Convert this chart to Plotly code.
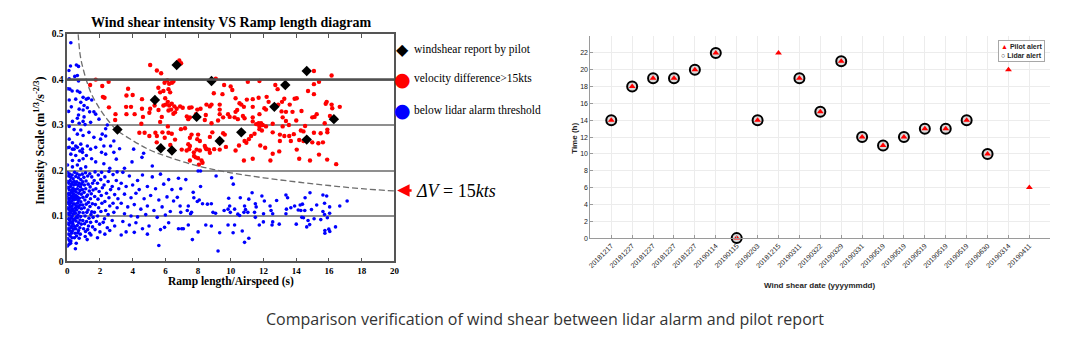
import plotly.graph_objects as go

# ---------------- left panel: intensity vs ramp length ----------------
# points classified as velocity difference > 15 kts
red_pts = [
    (5.07, .432), (5.48, .420), (5.74, .414), (6.12, .398), (6.40, .393), (6.85, .442), (6.96, .436),
    (9.08, .402), (11.75, .397), (11.04, .395), (15.08, .419), (16.16, .409), (1.74, .400), (1.40, .388),
    (2.14, .386), (2.53, .395), (2.18, .362), (2.28, .360), (2.55, .339), (2.95, .324), (2.93, .311),
    (3.72, .380), (4.00, .366), (3.62, .365), (3.60, .340), (3.90, .340), (3.62, .324), (4.12, .324),
    (4.57, .357), (4.57, .336), (4.63, .318), (4.53, .303), (5.02, .327), (5.07, .336), (5.34, .343),
    (5.57, .382), (5.68, .372), (5.88, .375), (6.19, .379), (6.29, .372), (5.99, .359), (6.15, .351),
    (5.88, .343), (6.02, .345), (6.23, .343), (6.39, .347), (6.55, .341), (6.69, .336), (6.19, .332),
    (6.35, .334), (6.49, .325), (6.59, .328), (6.23, .391), (6.49, .396), (5.95, .393), (5.58, .333),
    (5.78, .318), (5.68, .307), (4.41, .283), (4.73, .283), (5.02, .276), (5.48, .276), (6.15, .297),
    (5.82, .284), (6.19, .283), (6.39, .281), (6.59, .268), (5.39, .283), (5.47, .262), (5.96, .272),
    (6.30, .256), (9.59, .388), (9.99, .385), (10.09, .377), (12.72, .388), (12.86, .379), (8.96, .370),
    (9.49, .368), (10.98, .356), (11.34, .357), (11.70, .360), (10.64, .345), (10.29, .359), (10.53, .348),
    (10.39, .333), (10.29, .329), (10.80, .340), (11.34, .340), (12.19, .362), (12.31, .351), (13.13, .351),
    (13.27, .358), (13.37, .329), (12.05, .337), (12.15, .334), (11.75, .324), (6.90, .341), (7.06, .338),
    (7.46, .338), (7.60, .339), (8.15, .336), (7.95, .334), (8.51, .345), (8.72, .341), (8.82, .345),
    (9.32, .345), (9.32, .334), (9.32, .324), (7.87, .324), (7.31, .319), (7.50, .317), (7.40, .313),
    (8.47, .322), (8.41, .311), (9.22, .310), (8.82, .304), (9.53, .317), (9.83, .324), (9.93, .318),
    (10.23, .317), (10.43, .313), (10.74, .320), (10.84, .315), (11.34, .317), (11.34, .308), (11.55, .302),
    (11.70, .304), (11.85, .304), (11.95, .300), (11.75, .297), (12.56, .303), (13.17, .317), (13.37, .309),
    (13.17, .297), (6.95, .291), (7.20, .293), (7.60, .279), (7.50, .272), (8.00, .279), (7.95, .269),
    (8.11, .265), (8.72, .274), (8.87, .284), (9.53, .282), (9.63, .279), (10.84, .265), (10.95, .261),
    (11.10, .269), (11.24, .276), (11.45, .281), (11.75, .291), (11.90, .288), (12.15, .297), (12.56, .284),
    (13.00, .279), (13.27, .276), (13.57, .276), (13.67, .265), (13.00, .265), (7.40, .258), (7.50, .254),
    (7.45, .247), (8.41, .254), (8.51, .247), (8.66, .246), (7.00, .246), (7.30, .244), (7.74, .240),
    (7.91, .246), (8.11, .244), (8.47, .249), (8.98, .247), (8.72, .239), (9.32, .246), (10.29, .244),
    (11.34, .226), (12.56, .237), (12.42, .222), (12.96, .242), (8.00, .227), (8.21, .222), (8.27, .217),
    (7.50, .222), (7.75, .232), (7.85, .229), (8.05, .213), (10.80, .222), (11.80, .255), (12.10, .250),
    (10.50, .255), (9.70, .252), (15.39, .395), (15.08, .390), (14.72, .375), (15.08, .368), (14.03, .359),
    (15.86, .351), (15.80, .347), (16.16, .345), (16.20, .337), (16.66, .340), (13.77, .329), (14.32, .331),
    (15.25, .324), (14.98, .317), (15.12, .318), (16.06, .320), (15.74, .304), (14.54, .298), (14.28, .288),
    (14.44, .286), (15.90, .290), (15.90, .284), (15.08, .283), (15.49, .282), (14.18, .267), (14.44, .265),
    (14.98, .262), (15.35, .260), (15.63, .262), (14.03, .246), (14.18, .226), (14.84, .222), (15.39, .235),
    (15.89, .224), (16.44, .214), (13.90, .358), (13.60, .345), (13.55, .300), (14.00, .310), (13.85, .280),
    (12.90, .345), (13.10, .330),
]

# points below the lidar alarm threshold
blue_pts = [
    # above 0.2, left of the threshold curve
    (0.22, .481), (0.56, .432), (0.69, .429), (0.46, .407), (0.62, .409), (0.12, .402), (0.69, .397),
    (0.16, .379), (0.62, .375), (0.77, .372), (0.12, .355), (0.52, .357), (0.97, .361), (1.17, .357),
    (0.83, .350), (1.03, .343), (1.29, .359), (1.50, .355), (1.23, .338), (0.73, .335), (0.97, .333),
    (1.37, .329), (1.63, .329), (0.69, .322), (0.62, .315), (1.03, .318), (1.74, .324), (0.32, .308),
    (0.73, .304), (0.97, .308), (1.09, .301), (1.43, .306), (1.94, .313), (2.45, .300), (2.35, .292),
    (0.12, .297), (0.42, .290), (0.83, .289), (0.62, .280), (0.97, .277), (1.33, .284), (1.63, .273),
    (2.14, .280), (2.04, .269), (2.35, .276), (2.85, .265), (0.12, .269), (0.32, .261), (0.52, .254),
    (0.83, .258), (1.23, .254), (0.93, .247), (0.32, .247), (0.02, .250), (2.24, .254), (2.65, .254),
    (3.20, .248), (0.12, .251), (0.42, .247), (0.62, .251), (0.77, .243), (0.93, .240), (0.22, .236),
    (0.52, .233), (0.32, .222), (0.73, .222), (0.97, .226), (1.17, .233), (1.43, .247), (1.74, .251),
    (2.10, .240), (2.35, .236), (2.85, .240), (3.96, .219), (4.57, .229), (4.06, .247), (4.67, .238),
    (2.24, .215), (1.74, .219), (1.49, .226), (0.62, .212), (0.32, .208), (0.02, .212), (0.83, .204),
    (1.13, .208), (3.00, .225), (3.50, .205), (5.20, .210), (2.60, .205), (0.10, .420), (0.20, .430),
    (0.05, .380), (0.30, .375), (0.08, .330), (0.25, .340),
    # dense cluster, x < 0.4
    (0.03, .195), (0.08, .188), (0.15, .192), (0.22, .185), (0.30, .190), (0.36, .182), (0.02, .176),
    (0.10, .172), (0.18, .178), (0.26, .170), (0.33, .174), (0.40, .168), (0.05, .163), (0.12, .158),
    (0.20, .165), (0.28, .156), (0.35, .161), (0.07, .150), (0.16, .147), (0.24, .152), (0.31, .144),
    (0.38, .149), (0.03, .140), (0.11, .136), (0.19, .139), (0.27, .133), (0.34, .138), (0.06, .128),
    (0.14, .125), (0.22, .129), (0.30, .122), (0.37, .127), (0.02, .118), (0.09, .115), (0.17, .119),
    (0.25, .112), (0.32, .116), (0.40, .110), (0.05, .106), (0.13, .102), (0.21, .107), (0.29, .099),
    (0.36, .104), (0.08, .094), (0.16, .090), (0.24, .095), (0.33, .088), (0.03, .084), (0.11, .080),
    (0.19, .085), (0.27, .077), (0.35, .082), (0.06, .072), (0.14, .068), (0.22, .074), (0.30, .066),
    (0.09, .060), (0.18, .056), (0.26, .062), (0.04, .050), (0.13, .046), (0.21, .040), (0.02, .034),
    (0.29, .052), (0.38, .071), (0.40, .092), (0.12, .038), (0.50, .028), (0.22, .045), (0.40, .135),
    (0.39, .155), (0.07, .131), (0.18, .111), (0.26, .143), (0.12, .093), (0.31, .085), (0.05, .147),
    # x 0.4 - 0.9
    (0.45, .196), (0.52, .187), (0.60, .193), (0.68, .184), (0.75, .190), (0.83, .180), (0.43, .176),
    (0.50, .170), (0.58, .175), (0.66, .167), (0.73, .172), (0.81, .164), (0.88, .170), (0.46, .158),
    (0.54, .153), (0.62, .160), (0.70, .150), (0.78, .156), (0.86, .148), (0.44, .142), (0.51, .137),
    (0.59, .143), (0.67, .134), (0.75, .139), (0.83, .131), (0.47, .126), (0.55, .121), (0.63, .128),
    (0.71, .118), (0.79, .124), (0.87, .116), (0.43, .111), (0.50, .106), (0.58, .113), (0.66, .102),
    (0.74, .108), (0.82, .099), (0.46, .094), (0.54, .089), (0.62, .096), (0.70, .085), (0.78, .091),
    (0.86, .082), (0.45, .077), (0.53, .072), (0.61, .079), (0.69, .068), (0.77, .074), (0.48, .062),
    (0.57, .056), (0.65, .063), (0.73, .051), (0.55, .040), (0.80, .060), (0.44, .052), (0.52, .145),
    (0.68, .121), (0.57, .098), (0.49, .117), (0.64, .141),
    # x 0.9 - 1.6
    (0.92, .192), (1.02, .185), (1.12, .195), (1.25, .188), (1.38, .193), (1.50, .186), (0.95, .175),
    (1.05, .168), (1.15, .177), (1.28, .170), (1.40, .164), (1.55, .172), (0.93, .158), (1.03, .152),
    (1.13, .160), (1.24, .146), (1.35, .155), (1.47, .149), (1.58, .157), (0.96, .141), (1.08, .135),
    (1.18, .143), (1.30, .130), (1.42, .138), (1.54, .127), (0.94, .124), (1.04, .118), (1.16, .126),
    (1.27, .113), (1.39, .121), (1.50, .109), (0.97, .107), (1.09, .100), (1.20, .108), (1.33, .095),
    (1.45, .103), (1.58, .097), (0.95, .090), (1.06, .083), (1.18, .088), (1.30, .078), (1.43, .086),
    (1.55, .076), (1.00, .072), (1.12, .066), (1.25, .070), (1.37, .062), (1.10, .055), (1.22, .048),
    (1.45, .058),
    # x 1.6 - 3.2
    (1.70, .197), (1.90, .190), (2.10, .196), (2.30, .186), (2.55, .198), (2.80, .191), (3.05, .197),
    (1.65, .178), (1.85, .172), (2.05, .180), (2.25, .168), (2.50, .176), (2.75, .165), (3.00, .178),
    (1.75, .160), (1.95, .154), (2.15, .162), (2.40, .150), (2.65, .158), (2.90, .147), (3.15, .160),
    (1.68, .143), (1.88, .137), (2.08, .145), (2.30, .132), (2.55, .140), (2.80, .128), (3.10, .138),
    (1.72, .125), (1.92, .118), (2.12, .128), (2.35, .112), (2.60, .122), (2.85, .108), (3.05, .118),
    (1.66, .108), (1.86, .100), (2.06, .110), (2.28, .094), (2.50, .103), (2.75, .090), (1.78, .088),
    (1.98, .082), (2.20, .086), (2.45, .074), (1.70, .070), (2.00, .065), (2.30, .060), (2.60, .068),
    (1.85, .052), (2.90, .078),
    # x 3.2 - 6.6
    (3.40, .196), (3.80, .188), (4.30, .178), (4.60, .190), (5.20, .186), (5.70, .192), (6.20, .180),
    (3.30, .172), (3.60, .165), (4.00, .168), (4.40, .158), (4.90, .165), (5.40, .160), (5.90, .170),
    (6.40, .158), (3.50, .148), (3.90, .140), (4.20, .150), (4.70, .138), (5.10, .145), (5.60, .135),
    (6.10, .142), (6.50, .133), (3.30, .128), (3.70, .120), (4.10, .125), (4.50, .115), (4.90, .122),
    (5.30, .112), (5.80, .120), (6.30, .110), (3.50, .105), (3.90, .100), (4.30, .098), (4.80, .103),
    (5.50, .097), (6.00, .102), (3.40, .088), (3.80, .080), (4.20, .085), (4.60, .072), (5.00, .078),
    (5.70, .070), (6.20, .085), (3.60, .065), (4.10, .064), (4.90, .060), (5.60, .035), (3.30, .058),
    (5.95, .075),
    # x > 6.6, sparse
    (6.80, .183), (7.25, .180), (8.00, .199), (8.15, .199), (9.10, .188), (10.05, .184), (10.15, .170),
    (6.94, .160), (8.15, .165), (7.70, .152), (7.74, .140), (7.95, .132), (8.07, .135), (8.27, .127),
    (8.57, .126), (8.81, .127), (6.73, .141), (6.90, .122), (7.40, .122), (7.34, .112), (7.54, .105),
    (7.60, .108), (6.94, .108), (8.91, .108), (9.07, .106), (9.59, .112), (9.83, .115), (9.87, .139),
    (9.93, .122), (9.97, .108), (10.23, .115), (10.43, .104), (10.54, .101), (10.58, .140), (10.84, .122),
    (10.90, .114), (11.04, .108), (10.80, .108), (11.10, .137), (11.30, .151), (11.50, .127), (11.55, .120),
    (11.50, .097), (11.45, .108), (11.90, .144), (12.05, .133), (12.00, .105), (12.46, .112), (12.56, .105),
    (12.80, .134), (13.37, .146), (13.47, .140), (13.40, .115), (13.37, .105), (13.67, .118), (12.40, .122),
    (6.80, .072), (7.00, .072), (7.10, .072), (7.40, .080), (7.65, .048), (8.00, .065), (8.47, .080),
    (8.81, .078), (9.32, .063), (9.22, .023), (9.83, .080), (10.14, .063), (10.23, .080), (10.70, .067),
    (10.84, .042), (11.10, .051), (11.74, .080), (11.99, .087), (12.56, .087), (12.52, .080), (12.96, .082),
    (14.84, .151), (14.54, .140), (13.90, .122), (14.24, .124), (14.38, .126), (15.25, .124), (15.63, .146),
    (15.86, .144), (15.73, .128), (16.04, .120), (16.66, .122), (17.11, .133), (14.12, .113), (14.28, .112),
    (14.52, .112), (14.93, .114), (15.63, .110), (15.73, .103), (16.04, .106), (14.34, .097), (14.44, .096),
    (15.90, .096), (14.72, .090), (15.09, .094), (15.50, .092), (14.00, .082), (14.82, .081), (14.64, .076),
    (15.75, .068), (15.75, .062), (15.99, .071), (16.05, .066), (16.40, .076),
]

# pilot wind shear reports
pilot_x = [3.07, 5.36, 5.72, 6.40, 6.69, 7.91, 8.82, 9.32, 10.64, 12.66, 13.33, 14.64, 14.64, 16.30]
pilot_y = [0.290, 0.355, 0.249, 0.244, 0.432, 0.318, 0.397, 0.265, 0.284, 0.340, 0.388, 0.419, 0.268, 0.313]

# dV = 15 kts threshold curve
curve_x = [0.67, 0.8, 1.0, 1.25, 1.5, 2.0, 2.5, 3.0, 4.0, 5.0, 6.0, 8.0, 10.0, 12.0, 14.0, 16.0, 18.0, 20.0]
curve_y = [0.500, 0.452, 0.420, 0.390, 0.367, 0.335, 0.310, 0.290, 0.266, 0.246, 0.232, 0.210, 0.195,
           0.184, 0.175, 0.167, 0.160, 0.155]

left_x_ticks = [0, 2, 4, 6, 8, 10, 12, 14, 16, 18, 20]
left_y_ticks = [0, 0.1, 0.2, 0.3, 0.4, 0.5]

# ---------------- right panel: alert time by date ----------------
dates = ["20181217", "20181227", "20181227", "20181227", "20181227", "20190114", "20190115",
         "20190203", "20181215", "20190311", "20190322", "20190329", "20190331", "20190519",
         "20190519", "20190519", "20190519", "20190519", "20190630", "20190314", "20190411"]
pilot_alert = [14, 18, 19, 19, 20, 22, 0, 14, 22, 19, 15, 21, 12, 11, 12, 13, 13, 14, 10, 20, 6]
lidar_alert = [14, 18, 19, 19, 20, 22, 0, 14, None, 19, 15, 21, 12, 11, 12, 13, 13, 14, 10, None, None]
time_ticks = [0, 2, 4, 6, 8, 10, 12, 14, 16, 18, 20, 22]

W, H = 1092, 349
pos = list(range(1, len(dates) + 1))


def px(x):
    return x / W


def py(y):
    return (H - y) / H


serif = "Liberation Serif"
sans = "Liberation Sans"

fig = go.Figure()

fig.add_trace(go.Scatter(
    x=[p[0] for p in blue_pts], y=[p[1] for p in blue_pts], mode="markers",
    marker=dict(size=3.6, color="#0000ff"), xaxis="x", yaxis="y", showlegend=False))
fig.add_trace(go.Scatter(
    x=[p[0] for p in red_pts], y=[p[1] for p in red_pts], mode="markers",
    marker=dict(size=4.4, color="#ff0000"), xaxis="x", yaxis="y", showlegend=False))
fig.add_trace(go.Scatter(
    x=curve_x, y=curve_y, mode="lines", line=dict(color="#6e6e6e", width=1.3, dash="6px,3px", shape="spline"),
    xaxis="x", yaxis="y", showlegend=False))
fig.add_trace(go.Scatter(
    x=pilot_x, y=pilot_y, mode="markers", marker=dict(symbol="diamond", size=8, color="black"),
    xaxis="x", yaxis="y", showlegend=False))

fig.add_trace(go.Scatter(
    x=pos, y=lidar_alert, mode="markers", cliponaxis=False,
    marker=dict(symbol="circle", size=10, color="#d9d9d9", line=dict(color="black", width=2)),
    xaxis="x2", yaxis="y2", showlegend=False))
fig.add_trace(go.Scatter(
    x=pos, y=pilot_alert, mode="markers", cliponaxis=False,
    marker=dict(symbol="triangle-up", size=6, color="#ff0000"),
    xaxis="x2", yaxis="y2", showlegend=False))

axis_dark = "#555555"
fig.update_layout(
    width=W, height=H, margin=dict(l=0, r=0, t=0, b=0),
    paper_bgcolor="white", plot_bgcolor="white",
    xaxis=dict(domain=[px(64.7), px(394.3)], range=[0, 20], tickvals=left_x_ticks,
               showline=True, mirror="ticks", linecolor=axis_dark, linewidth=1.5,
               ticks="inside", ticklen=4, tickcolor=axis_dark, showgrid=False, zeroline=False,
               tickfont=dict(family=serif, size=9, color="black", weight="bold"), ticklabelstandoff=0),
    yaxis=dict(domain=[py(264), py(30)], range=[0, 0.5], tickvals=left_y_ticks,
               showline=True, mirror=True, linecolor=axis_dark, linewidth=1.5,
               ticks="", showgrid=True, gridcolor="#8f8f8f", gridwidth=2, zeroline=False,
               tickfont=dict(family=serif, size=9.5, color="black", weight="bold")),
    xaxis2=dict(domain=[px(591.7), px(1055)], range=[0, 22], tickvals=pos, ticktext=dates,
                tickangle=-45, showline=True, linecolor="#9a9a9a", linewidth=1,
                ticks="inside", ticklen=3, tickcolor="#9a9a9a", showgrid=True, gridcolor="#ececec",
                zeroline=False, tickfont=dict(family=sans, size=7, color="#1a1a1a"), anchor="y2"),
    yaxis2=dict(domain=[py(240), py(32)], range=[0, 24], tickvals=time_ticks,
                showline=True, linecolor="#9a9a9a", linewidth=1, ticks="inside", ticklen=3,
                tickcolor="#9a9a9a", showgrid=True, gridcolor="#ececec", zeroline=False,
                tickfont=dict(family=sans, size=7, color="#1a1a1a"), anchor="x2"),
)

# darker reference line at 0.4
fig.add_shape(type="line", xref="x domain", yref="y", x0=0, x1=1, y0=0.4, y1=0.4,
              line=dict(color="#505050", width=2.5))

ann = []
# left panel texts
ann.append(dict(text="<b>Wind shear intensity VS Ramp length diagram</b>", x=px(229.5), y=py(18),
                font=dict(family=serif, size=14, color="black")))
ann.append(dict(text="<b>Ramp length/Airspeed (s)</b>", x=px(229.5), y=py(285),
                font=dict(family=serif, size=11.5, color="black")))
ann.append(dict(text="<b>Intensity Scale (m<sup>1/3</sup>/s<sup>-2/3</sup>)</b>", x=px(37), y=py(140),
                textangle=-90, font=dict(family=serif, size=12, color="black")))
# left legend
for sym, col, size, yy, label in [
    ("◆", "black", 16, 46, "windshear report by pilot"),
    ("●", "#ff0000", 19, 76, "velocity difference>15kts"),
    ("●", "#0000ff", 19, 108, "below lidar alarm threshold"),
]:
    ann.append(dict(text=sym, x=px(402), y=py(yy), font=dict(family="DejaVu Sans", size=size, color=col)))
    ann.append(dict(text=label, x=px(412), y=py(yy), xanchor="left",
                    font=dict(family=serif, size=11.5, color="black")))
# threshold label with arrow
ann.append(dict(text="<i>ΔV</i> = 15<i>kts</i>", x=px(414), y=py(191), xanchor="left",
                font=dict(family=serif, size=18, color="black")))
ann.append(dict(text="", x=px(397), y=py(191), showarrow=True, ax=16, ay=0, arrowhead=2,
                arrowsize=1, arrowwidth=2.5, arrowcolor="#ff0000"))
# right panel texts
ann.append(dict(text="<b>Time (h)</b>", x=px(575), y=py(137), textangle=-90,
                font=dict(family=sans, size=8, color="#262626")))
ann.append(dict(text="<b>Wind shear date (yyyymmdd)</b>", x=px(823), y=py(289),
                font=dict(family=sans, size=8, color="#262626")))
ann.append(dict(text="<span style='color:#ff0000'>▲</span> <b>Pilot alert</b><br>"
                     "○ <b>Lidar alert</b>",
                x=px(1050), y=py(36), xanchor="right", yanchor="top", align="left",
                bordercolor="#a8a8a8", borderwidth=1, borderpad=2, bgcolor="white",
                font=dict(family=sans, size=7, color="#262626")))
# caption
ann.append(dict(text="Comparison verification of wind shear between lidar alarm and pilot report",
                x=px(546), y=py(323), font=dict(family="Open Sans", size=16, color="#333333")))

for a in ann:
    a.setdefault("xref", "paper")
    a.setdefault("yref", "paper")
    a.setdefault("xanchor", "center")
    a.setdefault("yanchor", "middle")
    a.setdefault("showarrow", False)
    fig.add_annotation(**a)

fig.write_html("out.html")
